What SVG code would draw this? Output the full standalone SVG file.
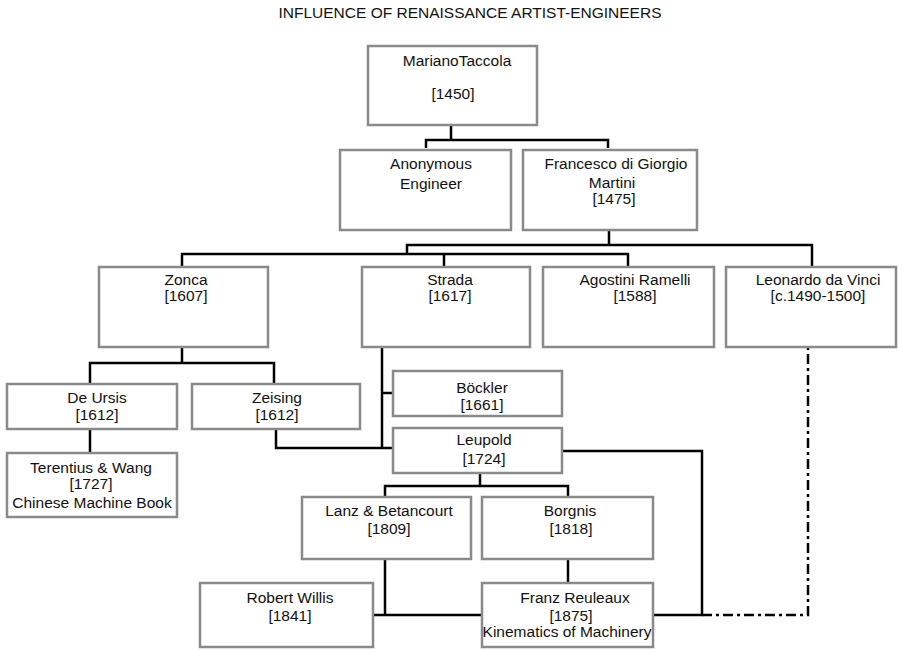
<svg xmlns="http://www.w3.org/2000/svg" width="898" height="651" viewBox="0 0 898 651">
<style>
.box{fill:#fff;stroke:#8a8a8a;stroke-width:2.5}
.t{font-family:"Liberation Sans",Arial,sans-serif;font-size:15.5px;fill:#111;text-anchor:middle}
.ln{fill:none;stroke:#000;stroke-width:2.5}
.dash{fill:none;stroke:#000;stroke-width:2.5;stroke-dasharray:10 4 3 4}
</style>
<rect width="898" height="651" fill="#fff"/>
<text class="t" x="470" y="18">INFLUENCE OF RENAISSANCE ARTIST-ENGINEERS</text>
<g id="connectors">
<path class="ln" d="M451,125 V140 M426,148 V140 H608 V148"/>
<path class="ln" d="M609,230 V245 M407,254 V245 H812 V267"/>
<path class="ln" d="M182,267 V254 H628 V267 M444,254 V267"/>
<path class="ln" d="M182,347 V363 M90,384 V363 H274 V384"/>
<path class="ln" d="M90,429 V453"/>
<path class="ln" d="M276,429 V448 H393"/>
<path class="ln" d="M382,347 V448 M382,393 H393"/>
<path class="ln" d="M480,473 V486 M385,497 V486 H568 V497"/>
<path class="ln" d="M562,451 H702 V615 H653"/>
<path class="ln" d="M385,559 V615 M373,615 H482"/>
<path class="ln" d="M568,559 V583"/>
<path class="dash" d="M702,615 H808 V347"/>
</g>
<g id="taccola"><rect class="box" x="368" y="46" width="169" height="79"/><text class="t" x="457" y="66">MarianoTaccola</text><text class="t" x="453" y="99">[1450]</text></g>
<g id="anonymous"><rect class="box" x="340" y="150" width="171" height="80"/><text class="t" x="431" y="169">Anonymous</text><text class="t" x="431" y="189">Engineer</text></g>
<g id="francesco"><rect class="box" x="523" y="150" width="174" height="80"/><text class="t" x="616" y="169">Francesco di Giorgio</text><text class="t" x="612" y="188">Martini</text><text class="t" x="614" y="204">[1475]</text></g>
<g id="zonca"><rect class="box" x="99" y="267" width="169" height="80"/><text class="t" x="186" y="285">Zonca</text><text class="t" x="186" y="301">[1607]</text></g>
<g id="strada"><rect class="box" x="362" y="267" width="168" height="80"/><text class="t" x="450" y="285">Strada</text><text class="t" x="450" y="301">[1617]</text></g>
<g id="ramelli"><rect class="box" x="543" y="267" width="171" height="80"/><text class="t" x="635" y="285">Agostini Ramelli</text><text class="t" x="635" y="301">[1588]</text></g>
<g id="leonardo"><rect class="box" x="726" y="267" width="170" height="80"/><text class="t" x="818" y="285">Leonardo da Vinci</text><text class="t" x="818" y="301">[c.1490-1500]</text></g>
<g id="deursis"><rect class="box" x="7" y="384" width="170" height="45"/><text class="t" x="97" y="403">De Ursis</text><text class="t" x="97" y="420">[1612]</text></g>
<g id="zeising"><rect class="box" x="192" y="384" width="168" height="45"/><text class="t" x="277" y="403">Zeising</text><text class="t" x="277" y="420">[1612]</text></g>
<g id="terentius"><rect class="box" x="7" y="453" width="170" height="64"/><text class="t" x="91" y="473">Terentius &amp; Wang</text><text class="t" x="91" y="489">[1727]</text><text class="t" x="92" y="508">Chinese Machine Book</text></g>
<g id="bockler"><rect class="box" x="393" y="371" width="169" height="45"/><text class="t" x="482" y="393">Böckler</text><text class="t" x="482" y="410">[1661]</text></g>
<g id="leupold"><rect class="box" x="393" y="428" width="169" height="45"/><text class="t" x="484" y="445">Leupold</text><text class="t" x="484" y="464">[1724]</text></g>
<g id="lanz"><rect class="box" x="302" y="497" width="169" height="62"/><text class="t" x="389" y="516">Lanz &amp; Betancourt</text><text class="t" x="389" y="534">[1809]</text></g>
<g id="borgnis"><rect class="box" x="482" y="497" width="171" height="62"/><text class="t" x="570" y="516">Borgnis</text><text class="t" x="571" y="534">[1818]</text></g>
<g id="willis"><rect class="box" x="200" y="583" width="173" height="64"/><text class="t" x="290" y="603">Robert Willis</text><text class="t" x="290" y="621">[1841]</text></g>
<g id="reuleaux"><rect class="box" x="482" y="583" width="171" height="64"/><text class="t" x="575" y="603">Franz Reuleaux</text><text class="t" x="571" y="621">[1875]</text><text class="t" x="567" y="637">Kinematics of Machinery</text></g>
</svg>
